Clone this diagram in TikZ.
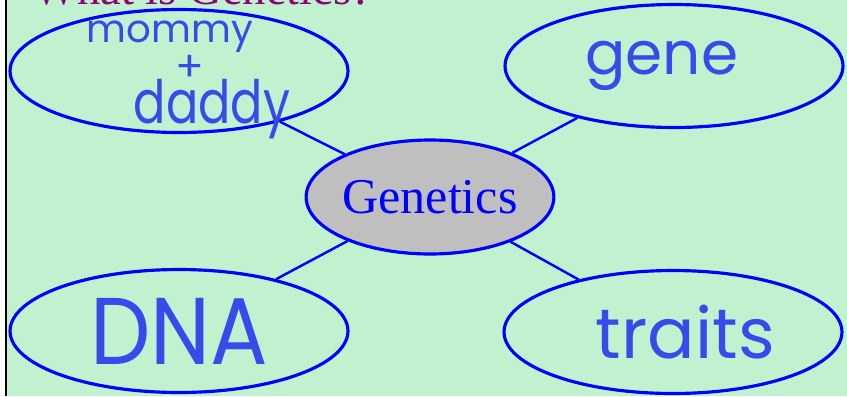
\documentclass[tikz,border=0pt]{standalone}
\usepackage{fontspec}
\setmainfont{Liberation Serif}
\newfontfamily\handfont{Poppins}
\usepackage{graphicx}
\usepackage{tikz}
\usetikzlibrary{shapes.geometric, positioning}
\usepackage{xcolor}
\definecolor{bggreen}{RGB}{192,242,208}
\definecolor{inkblue}{RGB}{55,75,235}
\definecolor{titlepurple}{RGB}{140,0,120}
\newcommand\freelines{\lineskiplimit=-50pt\relax}

\begin{document}
\begin{tikzpicture}[
  x=0.02cm, y=-0.02cm,
  every node/.style={align=center},
  bubble/.style ={ellipse, draw=blue, line width=1.8pt, inner sep=0pt,
                  minimum width=6.76cm, minimum height=2.46cm, text=inkblue},
  hub/.style    ={ellipse, draw=blue, line width=1.8pt, fill=gray!50, inner sep=0pt,
                  minimum width=4.9cm, minimum height=2.28cm, text=blue,
                  font=\fontsize{28.5}{30}\selectfont},
  handtext/.style={inner sep=0pt, text=inkblue},
  spoke/.style  ={draw=blue, line width=1.4pt},
]
\useasboundingbox (0,0) rectangle (847,396);

% Page background
\fill[white]   (0,0) rectangle (847,396);
\fill[bggreen] (7,0) rectangle (847,396);
\draw[black, line width=1.2pt] (6,0) -- (6,396);

% Title, cut at the top edge
\node[anchor=base west, inner sep=0pt, text=titlepurple,
      font=\fontsize{26.5}{28}\selectfont] (title) at (33,4) {What is Genetics?};

% Centre and outer bubbles
\node[hub]    (gen)  at (430,197) {Genetics};
\node[bubble] (par)  at (179,71) {};
\node[handtext, font={\handfont\fontsize{20}{20}\selectfont\freelines}] (partxt) at (190,80)
  {{\fontsize{22}{22}\selectfont mommy}\hspace*{23pt}\\[2pt]
   {\fontsize{24}{24}\selectfont\smash{+}}\\[4pt]
   \hspace*{25pt}\scalebox{0.8}[1]{\fontsize{34}{34}\selectfont daddy}};
\node[bubble, font=\handfont\fontsize{34}{36}\selectfont] (gene) at (674,66)
  {\hspace*{-14pt}\raisebox{-4pt}{gene}};
\node[bubble, font=\handfont\fontsize{54}{56}\selectfont] (dna)  at (179,331)
  {\scalebox{0.9}[1]{DNA}};
\node[bubble, font=\handfont\fontsize{40}{42}\selectfont] (trt)  at (673,332)
  {\hspace*{14pt}traits};

% Spokes
\draw[spoke] (gen) -- (par);
\draw[spoke] (gen) -- (gene);
\draw[spoke] (gen) -- (dna);
\draw[spoke] (gen) -- (trt);

\end{tikzpicture}
\end{document}
